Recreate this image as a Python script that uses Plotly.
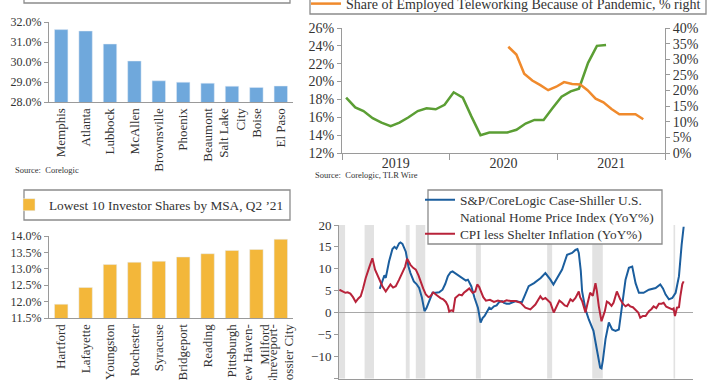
import pandas as pd
import plotly.graph_objects as go

FONT = "Liberation Serif"
TXT = "#333333"
AX = "#9a9a9a"
W, H = 720, 380

# ---------------- data ----------------
high_msa = ["Memphis", "Atlanta", "Lubbock", "McAllen", "Brownsville", "Phoenix",
            "Beaumont", "Salt Lake<br>City", "Boise", "El Paso"]
high_share = [31.62, 31.55, 30.9, 30.05, 29.06, 28.99, 28.94, 28.79, 28.73, 28.8]

low_msa = ["Hartford", "Lafayette", "Youngston", "Rochester", "Syracuse", "Bridgeport",
           "Reading", "Pittsburgh", "New Haven-<br>Milford", "Shreveport-<br>Bossier City"]
low_share = [11.92, 12.43, 13.13, 13.2, 13.23, 13.36, 13.46, 13.56, 13.59, 13.9]

invest_months = pd.date_range("2019-01-01", periods=30, freq="MS") + pd.Timedelta(days=14)
invest_share = [18.2, 17.1, 16.7, 15.9, 15.4, 15.0, 15.4, 16.0, 16.7, 17.0, 16.9, 17.4,
                18.8, 18.2, 16.1, 14.0, 14.3, 14.3, 14.3, 14.6, 15.3, 15.7, 15.7, 17.0,
                18.3, 18.9, 19.2, 22.1, 24.0, 24.1]

telework_months = pd.date_range("2020-05-01", periods=18, freq="MS") + pd.Timedelta(days=14)
telework_share = [34.0, 31.5, 25.4, 23.2, 21.7, 20.1, 21.2, 22.7, 22.1, 21.9, 20.1, 17.4,
                  16.2, 14.1, 12.4, 12.4, 12.4, 10.8]

hpi_year = [1976.1, 1976.5, 1976.8, 1977.0, 1977.5, 1978.0, 1978.3, 1978.6, 1979.0, 1979.2,
            1979.5, 1980.0, 1980.4, 1980.7, 1981.2, 1981.6, 1982.0, 1982.4, 1982.8, 1983.1,
            1983.5, 1984.0, 1984.5, 1985.0, 1985.5, 1985.9, 1986.3, 1986.7, 1987.0, 1987.4,
            1987.8, 1988.5, 1989.0, 1989.3, 1989.8, 1990.3, 1990.8, 1991.2, 1991.5, 1991.8,
            1992.2, 1992.5, 1992.8, 1993.2, 1993.6, 1994.0, 1994.4, 1994.7, 1995.1, 1995.5,
            1996.0, 1996.5, 1997.0, 1997.4, 1997.9, 1998.4, 1999.2, 2000.2, 2000.9, 2001.3,
            2001.65, 2002.1, 2002.65, 2003.4, 2004.15, 2004.9, 2005.4, 2005.7, 2005.9, 2006.2,
            2006.4, 2006.9, 2007.4, 2008.1, 2008.6, 2009.1, 2009.3, 2009.5, 2009.9, 2010.4,
            2010.9, 2011.4, 2011.9, 2012.4, 2012.9, 2013.4, 2013.9, 2014.4, 2014.9, 2015.6,
            2016.4, 2017.4, 2018.1, 2018.5, 2018.9, 2019.4, 2019.9, 2020.4, 2020.9, 2021.3,
            2021.6]
hpi_yoy = [5.4, 7.5, 8.5, 7.9, 11.7, 14.5, 15.0, 14.6, 15.8, 16.0,
           15.7, 13.9, 10.5, 9.0, 7.1, 6.5, 5.6, 3.5, 0.3, 1.0,
           2.4, 4.5, 4.5, 4.6, 5.2, 6.5, 8.3, 9.2, 9.4, 9.0,
           8.6, 7.9, 7.3, 7.5, 6.0, 3.3, 1.1, -2.3, -1.3, -0.8,
           0.5, 1.1, 0.8, 1.4, 1.6, 2.4, 2.6, 2.2, 2.0, 2.0,
           2.3, 2.6, 2.4, 2.4, 4.2, 6.0, 6.7, 7.9, 9.0, 8.3,
           7.5, 6.4, 7.9, 9.8, 13.2, 13.6, 14.3, 14.5, 13.6, 9.5,
           4.8, 0.7, -1.6, -4.2, -8.4, -12.6, -12.8, -11.0, -6.1, -2.3,
           -3.9, -4.2, -3.9, 1.4, 7.5, 10.2, 10.5, 6.7, 4.5, 4.5,
           5.2, 5.6, 6.4, 5.5, 4.1, 3.0, 3.3, 4.5, 8.3, 15.5,
           19.6]

cpi_year = [1970.06, 1970.5, 1970.96, 1971.3, 1971.7, 1972.1, 1972.5, 1972.9, 1973.25, 1973.6,
            1974.0, 1974.5, 1975.0, 1975.4, 1976.0, 1976.5, 1977.0, 1977.3, 1977.7, 1978.1,
            1978.5, 1979.0, 1979.5, 1979.9, 1980.2, 1980.7, 1981.1, 1981.5, 1981.9, 1982.2,
            1982.6, 1983.0, 1983.4, 1983.7, 1984.1, 1984.5, 1984.9, 1985.2, 1985.6, 1986.0,
            1986.3, 1986.5, 1986.8, 1987.1, 1987.4, 1988.0, 1988.4, 1988.7, 1989.1, 1989.5,
            1990.0, 1990.4, 1990.7, 1991.0, 1991.2, 1991.6, 1992.0, 1992.6, 1993.2, 1993.8,
            1994.5, 1995.1, 1995.7, 1996.4, 1997.2, 1997.9, 1998.65, 1999.4, 2000.15, 2000.5,
            2000.9, 2001.65, 2002.15, 2002.65, 2003.0, 2003.4, 2003.8, 2004.15, 2004.65, 2005.0,
            2005.4, 2005.9, 2006.1, 2006.4, 2006.9, 2007.2, 2007.6, 2008.0, 2008.4, 2008.6,
            2008.9, 2009.3, 2009.8, 2010.1, 2010.4, 2010.8, 2011.1, 2011.6, 2012.1, 2012.5,
            2012.9, 2013.3, 2013.6, 2014.0, 2014.4, 2014.8, 2015.1, 2015.5, 2015.9, 2016.4,
            2016.8, 2017.1, 2017.5, 2017.9, 2018.3, 2018.6, 2019.0, 2019.3, 2019.9, 2020.1,
            2020.3, 2020.6, 2020.9, 2021.1, 2021.4, 2021.6]
cpi_yoy = [5.2, 4.9, 4.5, 4.6, 4.3, 3.5, 2.4, 3.2, 3.7, 5.5,
           7.9, 10.2, 12.4, 9.8, 7.5, 6.0, 4.8, 5.5, 6.4, 5.7,
           6.0, 7.5, 9.0, 10.5, 12.3, 10.9, 10.2, 9.8, 8.5, 7.1,
           5.5, 4.1, 3.5, 3.7, 4.6, 4.1, 3.6, 3.3, 3.0, 2.4,
           1.5, 0.2, 0.5, 0.3, 3.3, 4.1, 3.9, 4.5, 5.0, 5.5,
           4.5, 4.8, 6.4, 5.8, 5.0, 3.5, 2.7, 2.9, 2.4, 2.7,
           2.4, 2.8, 2.6, 2.6, 2.2, 1.1, 0.7, 1.8, 3.7, 3.0,
           3.3, 2.2, 0.0, 1.8, 2.7, 2.2, 1.6, 1.4, 3.0, 2.6,
           3.3, 4.8, 3.5, 2.6, 0.0, 2.0, 4.5, 3.8, 6.7, 5.0,
           1.4, -2.0, 0.3, 2.5, 2.2, 1.5, 2.2, 4.8, 3.0, 2.0,
           1.4, 1.8, 1.4, 1.2, 0.7, 0.0, -1.2, -0.8, -0.8, 0.3,
           0.8, 1.4, 1.0, 2.0, 2.0, 2.2, 1.3, 1.1, 0.7, 0.9,
           -0.8, 1.1, 1.2, 3.7, 6.5, 7.1]

recession_start = ["1969-12-01", "1973-11-01", "1980-01-01", "1981-07-01",
                   "1990-07-01", "2001-03-01", "2007-12-01", "2020-02-01"]
recession_end = ["1970-11-30", "1975-03-31", "1980-07-31", "1982-11-30",
                 "1991-03-31", "2001-11-30", "2009-06-30", "2020-04-30"]


def dec_to_date(y):
    yr = int(y)
    return pd.Timestamp(year=yr, month=1, day=1) + pd.Timedelta(days=(y - yr) * 365.25)


hpi_dates = [dec_to_date(v) for v in hpi_year]
cpi_dates = [dec_to_date(v) for v in cpi_year]


def px_x(p):
    return p / W


def px_y(p):
    return 1 - p / H


# ---------------- figure ----------------
fig = go.Figure()

fig.add_trace(go.Bar(x=high_msa, y=high_share, marker_color="#6FA8DC",
                     name="Highest 10 Investor Shares by MSA, Q2 '21",
                     xaxis="x", yaxis="y", showlegend=False))

fig.add_trace(go.Scatter(x=invest_months, y=invest_share, mode="lines",
                         line=dict(color="#5B9E34", width=2.5),
                         name="Investor Share of Home Purchases, % left",
                         xaxis="x2", yaxis="y2", showlegend=False))
fig.add_trace(go.Scatter(x=telework_months, y=telework_share, mode="lines",
                         line=dict(color="#F08A2C", width=2.5),
                         name="Share of Employed Teleworking Because of Pandemic, % right",
                         xaxis="x5", yaxis="y3", legend="legend2"))

fig.add_trace(go.Bar(x=low_msa, y=low_share, marker_color="#F3B73A",
                     name="Lowest 10 Investor Shares by MSA, Q2 \u201921",
                     xaxis="x3", yaxis="y4", legend="legend3"))

fig.add_trace(go.Scatter(x=hpi_dates, y=hpi_yoy, mode="lines",
                         line=dict(color="#1B5E9E", width=2),
                         name="S&P/CoreLogic Case-Shiller U.S.<br>National Home Price Index (YoY%)",
                         xaxis="x4", yaxis="y5", legend="legend4"))
fig.add_trace(go.Scatter(x=cpi_dates, y=cpi_yoy, mode="lines",
                         line=dict(color="#B8233A", width=2),
                         name="CPI less Shelter Inflation (YoY%)",
                         xaxis="x4", yaxis="y5", legend="legend5"))

# teleworking series sits on a compressed secondary time axis
t0, t1 = telework_months[0], telework_months[-1]
ms_per_px = (t1 - t0) / (643.3 - 508.3)
x5_range = [t0 - ms_per_px * (508.3 - 342), t1 + ms_per_px * (665 - 643.3)]

tickfont = dict(family=FONT, size=12, color=TXT)
axis_common = dict(showline=True, linecolor=AX, linewidth=1, showgrid=False,
                   zeroline=False, tickfont=tickfont, tickcolor=AX)

shapes = []
for s, e in zip(recession_start, recession_end):
    shapes.append(dict(type="rect", xref="x4", yref="y5 domain", x0=s, x1=e, y0=0, y1=1,
                       fillcolor="#E2E2E2", line=dict(width=0), layer="below"))
# legend boxes
for (x0, x1, y0, y1) in [(24, 290, -30, 3), (310, 706, -30, 14), (24, 290, 190, 220), (428, 662, 190, 244)]:
    shapes.append(dict(type="rect", xref="paper", yref="paper",
                       x0=px_x(x0), x1=px_x(x1), y0=px_y(y1), y1=px_y(y0),
                       line=dict(color="#8c8c8c", width=1.3), fillcolor="white", layer="above"))

leg_common = dict(xanchor="left", yanchor="middle", bgcolor="rgba(0,0,0,0)", borderwidth=0)

fig.update_layout(
    width=W, height=H,
    margin=dict(l=0, r=0, t=0, b=0, autoexpand=False),
    paper_bgcolor="white", plot_bgcolor="white",
    font=dict(family=FONT, color=TXT),
    bargap=0.45,
    xaxis=dict(axis_common, domain=[px_x(49), px_x(293)], anchor="y", type="category",
               tickangle=-90, ticks="", tickfont=dict(family=FONT, size=13, color=TXT)),
    yaxis=dict(axis_common, domain=[px_y(102), px_y(22)], anchor="x", range=[28, 32],
               dtick=1, tickformat=".1f", ticksuffix="%", ticks="outside", ticklen=4),
    xaxis2=dict(axis_common, domain=[px_x(342), px_x(665)], anchor="y2", type="date",
                range=["2019-01-01", "2022-01-01"], dtick="M12", tick0="2019-01-01",
                tickformat="%Y", ticklabelmode="period", ticks="outside", ticklen=6,
                ticklabelstandoff=-9,
                tickfont=dict(family=FONT, size=14, color=TXT)),
    yaxis2=dict(axis_common, domain=[px_y(153), px_y(28)], anchor="x2", range=[12, 26],
                dtick=2, ticksuffix="%", ticks="outside", ticklen=4,
                tickfont=dict(family=FONT, size=14, color=TXT)),
    yaxis3=dict(axis_common, overlaying="y2", side="right", anchor="x2", range=[0, 40],
                dtick=5, ticksuffix="%", ticks="outside", ticklen=4,
                tickfont=dict(family=FONT, size=14, color=TXT)),
    xaxis5=dict(overlaying="x2", anchor="y3", type="date", range=x5_range, visible=False),
    xaxis3=dict(axis_common, domain=[px_x(49), px_x(293)], anchor="y4", type="category",
                tickangle=-90, ticks="", tickfont=dict(family=FONT, size=13, color=TXT)),
    yaxis4=dict(axis_common, domain=[px_y(318), px_y(236)], anchor="x3", range=[11.5, 14],
                dtick=0.5, tickformat=".1f", ticksuffix="%", ticks="outside", ticklen=4),
    xaxis4=dict(axis_common, domain=[px_x(339), px_x(693)], anchor="y5", type="date",
                range=["1970-01-01", "2023-01-01"], showticklabels=False, ticks=""),
    yaxis5=dict(axis_common, domain=[px_y(378.5), px_y(225)], anchor="x4", range=[-15.1, 20],
                tickvals=[-15, -10, -5, 0, 5, 10, 15, 20],
                ticks="outside", ticklen=4, zeroline=True, zerolinecolor="#a8a8a8",
                zerolinewidth=1.2, tickfont=dict(family=FONT, size=13, color=TXT)),
    legend2=dict(leg_common, x=px_x(306), y=px_y(4),
                 font=dict(family=FONT, size=14, color=TXT)),
    legend3=dict(leg_common, x=px_x(9), y=px_y(205),
                 font=dict(family=FONT, size=13.3, color=TXT)),
    legend4=dict(leg_common, x=px_x(420), y=px_y(208.5), valign="top",
                 font=dict(family=FONT, size=13.3, color=TXT)),
    legend5=dict(leg_common, x=px_x(420), y=px_y(234),
                 font=dict(family=FONT, size=13.3, color=TXT)),
    shapes=shapes,
    annotations=[
        dict(text="Source:  Corelogic", x=px_x(13), y=px_y(170), xref="paper", yref="paper",
             xanchor="left", yanchor="middle", showarrow=False,
             font=dict(family=FONT, size=8.5, color=TXT)),
        dict(text="Source:  Corelogic, TLR Wire", x=px_x(313), y=px_y(175), xref="paper",
             yref="paper", xanchor="left", yanchor="middle", showarrow=False,
             font=dict(family=FONT, size=8.5, color=TXT)),
    ],
)

fig.write_html("out.html", config={"displayModeBar": False},
               post_script="document.body.style.margin='0px';")
